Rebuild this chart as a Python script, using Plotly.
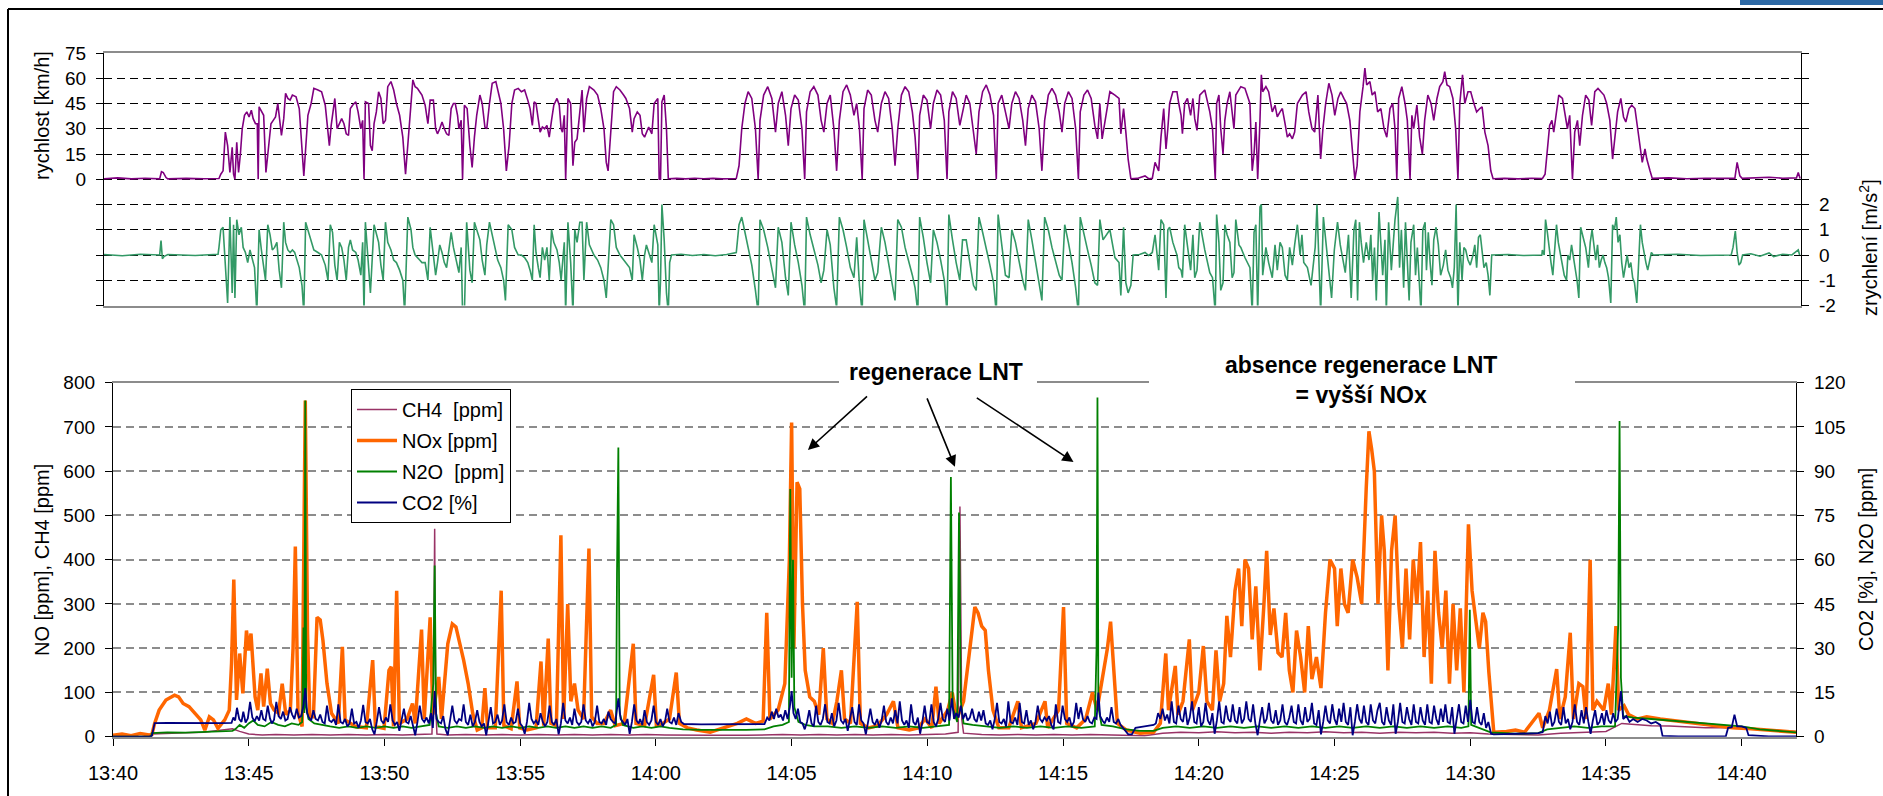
import plotly.graph_objects as go

W, H = 1883, 796
FONT = "Liberation Sans, Arial, sans-serif"

# ---------------- axis ticks ----------------
tick_seconds = [0, 300, 600, 900, 1200, 1500, 1800, 2100, 2400, 2700, 3000, 3300, 3600]
tick_labels = ["13:40", "13:45", "13:50", "13:55", "14:00", "14:05", "14:10",
               "14:15", "14:20", "14:25", "14:30", "14:35", "14:40"]
speed_ticks = [-75, -60, -45, -30, -15, 0, 15, 30, 45, 60, 75]
speed_tick_text = ["", "", "", "", "", "0", "15", "30", "45", "60", "75"]
accel_ticks = [-2, -1, 0, 1, 2, 3, 4, 5, 6, 7, 8]
accel_tick_text = ["-2", "-1", "0", "1", "2", "", "", "", "", "", ""]
left_ticks = [0, 100, 200, 300, 400, 500, 600, 700, 800]
right_ticks = [0, 15, 30, 45, 60, 75, 90, 105, 120]

# ---------------- data: (seconds after 13:40:00, value) ----------------
speed_pts = [
    (0, 0.3), (30, 0.8), (60, 0.2), (90, 0.6), (122, 0.2), (126, 4.5), (130, 4), (136, 1), (140, 0.2),
    (180, 0.5), (220, 0.3), (252, 0.4), (256, 3), (261, 5), (266, 28), (271, 20), (276, 4), (281, 19),
    (284, 3), (287, 0), (291, 22), (295, 4), (299, 15), (303, 30), (308, 38), (313, 40), (318, 37),
    (323, 41), (327, 36), (332, 33), (336, 33), (338, 0), (340, 43), (350, 38), (355, 4), (359, 15),
    (366, 33), (371, 35), (376, 37), (381, 45), (385, 37), (389, 26), (394, 36), (398, 51), (403, 48),
    (408, 47), (413, 50), (421, 49), (428, 42), (434, 20), (438, 2), (442, 18), (447, 38), (454, 45),
    (460, 54), (469, 53), (477, 52), (485, 44), (489, 35), (494, 20), (498, 32), (502, 40), (506, 48),
    (511, 30), (516, 33), (521, 36), (526, 33), (531, 27), (536, 26), (540, 42), (545, 44), (552, 46),
    (557, 40), (563, 30), (567, 35), (570, 0), (573, 46), (580, 45), (584, 20), (588, 17), (592, 33),
    (597, 40), (602, 52), (607, 48), (612, 33), (617, 35), (622, 55), (629, 58), (635, 53), (641, 45),
    (648, 38), (655, 25), (661, 3), (666, 20), (673, 45), (677, 59), (682, 55), (687, 54), (692, 52),
    (697, 50), (704, 44), (710, 33), (715, 47), (722, 47), (727, 30), (731, 27), (736, 30), (741, 34),
    (746, 30), (751, 27), (756, 26), (761, 42), (766, 45), (770, 45), (775, 38), (778, 30), (783, 35),
    (786, 0), (790, 44), (796, 42), (802, 20), (807, 7), (812, 25), (817, 38), (824, 50), (829, 45),
    (835, 31), (839, 30), (845, 45), (851, 57), (859, 58), (863, 53), (870, 45), (876, 30), (882, 5),
    (888, 20), (894, 45), (900, 53), (908, 54), (915, 52), (922, 53), (929, 47), (934, 42), (939, 32),
    (943, 46), (947, 45), (952, 36), (956, 28), (961, 31), (966, 30), (971, 32), (976, 25), (981, 35),
    (986, 44), (993, 48), (998, 44), (1002, 30), (1005, 28), (1009, 38), (1012, 0), (1017, 48),
    (1023, 45), (1028, 8), (1032, 22), (1037, 24), (1043, 40), (1048, 53), (1052, 28), (1058, 48),
    (1064, 55), (1074, 53), (1082, 50), (1089, 42), (1096, 30), (1101, 10), (1105, 5), (1111, 30),
    (1117, 52), (1123, 55), (1131, 53), (1139, 50), (1144, 48), (1152, 42), (1158, 28), (1162, 36),
    (1169, 40), (1175, 38), (1180, 27), (1185, 25), (1189, 28), (1194, 31), (1201, 27), (1206, 45),
    (1214, 48), (1217, 0), (1220, 0), (1223, 46), (1228, 50), (1233, 30), (1237, 0.3), (1255, 0.5),
    (1275, 0.2), (1295, 0.6), (1315, 0.3), (1335, 0.5), (1355, 0.2), (1375, 0.5),
    (1386, 0.4), (1392, 8), (1398, 30), (1405, 45), (1412, 52), (1420, 48), (1428, 30), (1434, 0),
    (1438, 35), (1446, 50), (1455, 55), (1464, 48), (1472, 28), (1478, 45), (1486, 52), (1494, 38),
    (1500, 20), (1506, 42), (1514, 50), (1522, 47), (1530, 30), (1536, 0), (1540, 40), (1548, 52),
    (1556, 55), (1565, 50), (1572, 35), (1578, 28), (1585, 45), (1592, 50), (1600, 30), (1606, 5),
    (1612, 35), (1620, 52), (1628, 56), (1636, 50), (1644, 38), (1650, 45), (1656, 30), (1662, 0),
    (1666, 42), (1674, 53), (1682, 50), (1690, 35), (1696, 28), (1704, 45), (1712, 52), (1720, 48),
    (1728, 30), (1734, 8), (1740, 30), (1748, 50), (1756, 55), (1764, 52), (1772, 40), (1778, 25),
    (1784, 0), (1788, 38), (1796, 50), (1804, 47), (1812, 30), (1818, 45), (1826, 53), (1834, 50),
    (1842, 35), (1848, 0), (1852, 40), (1860, 52), (1868, 48), (1876, 32), (1882, 40), (1890, 50),
    (1898, 45), (1906, 28), (1912, 15), (1918, 40), (1926, 52), (1934, 56), (1942, 50), (1950, 38),
    (1956, 0), (1960, 45), (1968, 50), (1976, 40), (1984, 30), (1990, 45), (1998, 52), (2006, 48),
    (2014, 35), (2020, 20), (2026, 42), (2034, 50), (2042, 46), (2050, 30), (2056, 5), (2062, 35),
    (2070, 50), (2078, 54), (2086, 50), (2094, 40), (2100, 28), (2106, 45), (2114, 52), (2122, 48),
    (2130, 30), (2136, 0), (2140, 40), (2148, 50), (2156, 53), (2164, 48), (2172, 32), (2178, 24),
    (2183, 45), (2188, 24), (2205, 52), (2216, 50), (2225, 48), (2229, 27), (2235, 42), (2240, 28),
    (2245, 12), (2251, 0.3), (2265, 0.5), (2282, 2), (2290, 0.3), (2298, 0.5), (2304, 10), (2312, 5),
    (2317, 25), (2323, 42), (2328, 18), (2332, 30), (2336, 45), (2343, 52), (2352, 52), (2356, 45),
    (2361, 38), (2364, 27), (2369, 45), (2375, 48), (2382, 38), (2387, 48), (2391, 36), (2396, 29),
    (2402, 50), (2413, 53), (2424, 40), (2430, 30), (2433, 10), (2436, 0), (2439, 45), (2444, 50),
    (2448, 30), (2453, 15), (2457, 35), (2462, 45), (2468, 52), (2473, 38), (2477, 30), (2481, 50),
    (2488, 53), (2492, 55), (2501, 54), (2506, 50), (2512, 45), (2517, 5), (2521, 15), (2525, 34),
    (2529, 0), (2534, 35), (2537, 62), (2540, 52), (2547, 55), (2553, 52), (2561, 40), (2567, 44),
    (2572, 37), (2578, 40), (2583, 42), (2589, 33), (2594, 25), (2599, 27), (2605, 24), (2610, 28),
    (2616, 45), (2627, 50), (2635, 52), (2641, 40), (2648, 30), (2654, 28), (2661, 50), (2667, 12),
    (2672, 30), (2678, 45), (2685, 57), (2692, 50), (2698, 38), (2705, 48), (2711, 52), (2718, 48),
    (2724, 45), (2731, 35), (2736, 18), (2742, 0), (2747, 8), (2753, 40), (2760, 55), (2764, 66),
    (2768, 56), (2775, 58), (2780, 50), (2786, 52), (2792, 40), (2799, 42), (2806, 30), (2812, 25),
    (2819, 42), (2825, 45), (2830, 30), (2834, 0), (2838, 48), (2845, 55), (2852, 45), (2857, 35),
    (2863, 0), (2867, 38), (2871, 30), (2878, 44), (2884, 25), (2890, 15), (2895, 35), (2902, 50),
    (2909, 45), (2915, 35), (2922, 48), (2928, 55), (2935, 58), (2939, 64), (2944, 56), (2950, 55),
    (2957, 48), (2963, 30), (2968, 0), (2972, 45), (2978, 62), (2983, 45), (2990, 52), (2996, 52),
    (3003, 45), (3009, 40), (3016, 42), (3021, 43), (3027, 28), (3034, 20), (3040, 5), (3045, 0.3),
    (3070, 0.5), (3100, 0.2), (3130, 0.6), (3153, 0.4), (3159, 3), (3164, 20), (3169, 32), (3174, 35),
    (3178, 28), (3183, 38), (3189, 50), (3197, 48), (3202, 40), (3208, 30), (3213, 38), (3219, 0),
    (3224, 28), (3230, 35), (3235, 20), (3241, 38), (3248, 50), (3255, 47), (3261, 32), (3268, 52),
    (3275, 54), (3281, 52), (3288, 50), (3294, 45), (3301, 35), (3307, 12), (3312, 25), (3318, 40),
    (3325, 48), (3331, 37), (3336, 34), (3343, 42), (3349, 44), (3356, 42), (3362, 30), (3367, 20),
    (3372, 10), (3378, 18), (3382, 12), (3389, 5), (3394, 0.5), (3430, 0.8), (3470, 0.3), (3510, 0.6),
    (3550, 0.4), (3575, 0.5), (3580, 10), (3586, 2), (3591, 0.5), (3620, 0.8), (3650, 1.2), (3680, 0.6),
    (3710, 0.8), (3714, 4), (3718, 0.5),
]

accel_pts = [
    (0, 0.02), (40, -0.03), (80, 0.03), (122, 0.0), (125, 0.57), (128, -0.15), (132, -0.05), (140, 0.02),
    (200, -0.02), (250, 0.03), (252, 0.3), (256, 1.0), (261, 1.1), (266, -0.2), (271, -1.9), (276, 1.5),
    (281, -1.5), (284, 1.2), (287, -1.7), (291, 1.4), (296, 0.8), (301, 1.1), (305, 0.3), (310, 0.1),
    (315, -0.3), (320, 0.2), (325, -0.2), (330, -0.5), (335, -2.3), (340, 1.0), (345, 0.2), (350, -0.5),
    (354, -1.0), (359, 1.2), (364, 0.8), (369, 0.2), (374, 0.3), (379, 0.5), (384, -0.6), (389, -1.3),
    (394, 1.3), (398, 0.5), (403, 0.2), (408, 0.1), (413, 0.2), (418, 0.1), (423, -0.2), (428, -0.5),
    (434, -1.2), (438, -2.3), (442, 1.3), (447, 1.0), (454, 0.5), (460, 0.2), (469, 0.1), (477, 0.0),
    (485, -0.4), (491, -1.0), (496, 1.2), (501, 0.9), (506, -0.4), (511, -1.0), (516, 0.5), (521, 0.3),
    (526, -0.2), (531, -1.0), (536, 0.3), (540, 0.6), (545, 0.2), (552, 0.1), (557, -0.2), (563, -0.8),
    (567, 0.5), (570, -2.3), (573, 1.3), (580, -0.3), (584, -1.5), (592, 1.2), (597, 0.9), (602, 0.5),
    (607, -0.4), (612, -1.0), (617, 1.3), (622, 0.5), (629, 0.2), (635, -0.2), (641, -0.3), (648, -0.6),
    (655, -1.0), (659, -2.3), (666, 1.5), (673, 1.0), (677, 0.3), (682, 0.0), (692, -0.2), (697, -0.3),
    (704, -0.3), (710, -1.0), (715, 1.1), (722, 0.0), (727, -0.8), (731, -0.3), (736, 0.4), (741, 0.1),
    (746, -0.3), (751, -0.5), (756, 0.2), (761, 0.9), (766, 0.3), (770, 0.0), (775, -0.4), (778, -0.7),
    (783, 0.3), (786, -2.3), (790, -2.3), (795, 1.3), (802, -0.6), (807, -1.1), (812, 1.3), (817, 1.0),
    (824, 0.6), (829, -0.2), (835, -0.8), (839, 0.4), (845, 1.3), (851, 0.8), (859, 0.1), (863, -0.2),
    (870, -0.5), (876, -1.0), (880, -1.8), (886, 1.2), (894, 1.0), (900, 0.3), (908, 0.0), (915, 0.0),
    (922, -0.1), (929, -0.3), (934, -0.6), (939, -1.0), (943, 1.2), (947, 0.1), (952, -0.5), (956, -0.9),
    (961, 0.3), (966, -0.2), (971, 0.3), (976, -1.0), (981, 1.0), (986, 0.5), (993, 0.2), (998, -0.3),
    (1002, -1.0), (1005, -0.3), (1009, 0.5), (1012, -2.3), (1017, 1.3), (1023, -0.3), (1028, -2.3),
    (1032, 1.0), (1037, 0.5), (1043, 1.3), (1048, 1.3), (1052, -1.0), (1058, 1.3), (1064, 0.4),
    (1074, 0.0), (1082, -0.2), (1089, -0.5), (1096, -1.0), (1101, -1.7), (1105, -0.5), (1111, 1.4),
    (1117, 1.2), (1123, 0.3), (1131, 0.0), (1139, -0.2), (1144, -0.3), (1152, -0.5), (1158, -1.0),
    (1162, 0.8), (1169, 0.3), (1175, -0.2), (1180, -1.0), (1185, 0.0), (1189, 0.4), (1194, 0.1),
    (1201, -0.3), (1206, 1.2), (1214, 0.4), (1217, -2.3), (1220, -1.0), (1223, 2.0), (1228, 0.6),
    (1233, -1.5), (1237, -2.3), (1240, -0.3), (1244, 0.0), (1265, 0.03), (1290, -0.02), (1315, 0.02),
    (1340, -0.03), (1365, 0.02), (1386, 0.1),
    (1392, 1.2), (1398, 1.5), (1405, 0.9), (1412, 0.3), (1420, -0.4), (1428, -1.4), (1434, -2.3),
    (1438, 1.4), (1446, 1.0), (1455, 0.3), (1464, -0.5), (1472, -1.3), (1478, 1.1), (1486, 0.5),
    (1494, -0.9), (1500, -1.6), (1506, 1.3), (1514, 0.4), (1522, -0.3), (1530, -1.2), (1536, -2.3),
    (1540, 1.5), (1548, 0.8), (1556, 0.2), (1565, -0.4), (1572, -1.1), (1578, -0.6), (1585, 1.0),
    (1592, 0.4), (1600, -1.3), (1606, -2.1), (1612, 1.5), (1620, 1.0), (1628, 0.3), (1636, -0.5),
    (1644, -0.9), (1650, 0.7), (1656, -1.2), (1662, -2.3), (1666, 1.4), (1674, 0.6), (1682, -0.3),
    (1690, -1.0), (1696, -0.7), (1704, 1.1), (1712, 0.5), (1720, -0.3), (1728, -1.2), (1734, -1.8),
    (1740, 1.4), (1748, 1.1), (1756, 0.3), (1764, -0.2), (1772, -0.8), (1778, -1.3), (1784, -2.3),
    (1788, 1.5), (1796, 0.7), (1804, -0.3), (1812, -1.1), (1818, 1.0), (1826, 0.5), (1834, -0.2),
    (1842, -1.0), (1848, -2.3), (1852, 1.6), (1860, 0.6), (1868, -0.3), (1876, -1.0), (1882, 0.6),
    (1890, 0.6), (1898, -0.4), (1906, -1.2), (1912, -1.4), (1918, 1.5), (1926, 0.9), (1934, 0.3),
    (1942, -0.4), (1950, -1.1), (1956, -2.3), (1960, 1.6), (1968, 0.4), (1976, -0.8), (1984, -0.9),
    (1990, 1.0), (1998, 0.5), (2006, -0.3), (2014, -1.0), (2020, -1.4), (2026, 1.4), (2034, 0.6),
    (2042, -0.3), (2050, -1.1), (2056, -1.8), (2062, 1.5), (2070, 1.0), (2078, 0.3), (2086, -0.3),
    (2094, -0.8), (2100, -1.0), (2106, 1.2), (2114, 0.5), (2122, -0.3), (2130, -1.3), (2136, -2.3),
    (2140, 1.5), (2148, 0.8), (2156, 0.2), (2164, -0.4), (2172, -1.1), (2178, -1.2), (2183, 1.4),
    (2190, 0.6), (2205, 1.0), (2216, -0.1), (2225, -0.3), (2229, -1.6), (2235, 1.1), (2240, -1.1),
    (2245, -1.5), (2251, -1.2), (2256, 0.0), (2270, 0.02), (2282, 0.1), (2290, -0.02), (2298, 0.1),
    (2304, 0.8), (2312, -0.6), (2317, 1.4), (2323, 1.2), (2328, -1.7), (2332, 1.0), (2336, 1.1),
    (2343, 0.5), (2352, 0.0), (2356, -0.5), (2361, -0.6), (2364, -0.9), (2369, 1.2), (2375, 0.3),
    (2382, -0.6), (2387, 0.8), (2391, -0.9), (2396, -0.6), (2402, 1.3), (2413, 0.2), (2424, -0.7),
    (2430, -0.9), (2433, -1.6), (2436, -2.3), (2439, 1.6), (2444, 0.5), (2448, -1.4), (2453, -1.1),
    (2457, 1.2), (2462, 0.8), (2468, 0.5), (2473, -0.9), (2477, -0.7), (2481, 1.4), (2488, 0.4),
    (2492, 0.3), (2501, -0.1), (2506, -0.3), (2512, -0.5), (2517, -2.3), (2521, 0.9), (2525, 1.2),
    (2529, -2.3), (2534, 1.9), (2537, 2.0), (2540, -0.8), (2547, 0.3), (2553, -0.3), (2561, -0.9),
    (2567, 0.4), (2572, -0.6), (2578, 0.5), (2583, 0.3), (2589, -0.8), (2594, -1.0), (2599, 0.3),
    (2605, -0.4), (2610, 0.4), (2616, 1.2), (2622, 0.0), (2626, 0.8), (2630, -0.3), (2638, -0.5),
    (2646, -1.2), (2655, 0.3), (2659, 2.0), (2663, -0.5), (2667, -2.3), (2673, 1.5), (2679, 0.5),
    (2686, -0.8), (2691, -1.7), (2697, 0.2), (2704, 1.3), (2710, 0.4), (2716, -0.3), (2721, -0.7),
    (2728, 0.8), (2734, -1.7), (2740, 1.0), (2744, 1.4), (2748, -1.8), (2752, 1.3), (2756, 0.5),
    (2761, -0.3), (2767, 0.5), (2773, -0.2), (2777, 0.8), (2781, -1.0), (2785, 0.3), (2789, -1.8),
    (2795, 1.7), (2800, 0.2), (2803, -0.8), (2808, 0.6), (2811, -2.3), (2816, 1.3), (2822, -0.6),
    (2826, 0.4), (2830, 1.4), (2836, 2.3), (2840, -0.5), (2844, 1.0), (2849, -1.3), (2853, 1.3),
    (2857, -0.5), (2861, -1.8), (2865, 0.5), (2871, 1.2), (2875, -0.8), (2879, 0.3), (2883, -1.0),
    (2887, -2.3), (2891, 1.0), (2896, 1.3), (2899, -0.6), (2903, 0.9), (2907, -0.3), (2911, -1.2),
    (2915, 0.6), (2920, 1.1), (2925, 0.4), (2930, -0.8), (2936, -0.4), (2941, 0.2), (2946, -0.6),
    (2952, -0.9), (2956, -1.3), (2960, -0.5), (2964, 2.0), (2968, -2.3), (2972, 0.5), (2977, -1.0),
    (2981, 0.3), (2985, 0.2), (2990, -0.2), (2995, -0.4), (3001, 0.0), (3005, 0.4), (3009, -0.5),
    (3013, 0.7), (3017, 0.8), (3021, 0.0), (3025, -0.5), (3030, -0.3), (3034, -0.8), (3038, -1.6),
    (3042, 0.0), (3078, 0.02), (3111, -0.02), (3152, 0.0), (3153, 0.2), (3157, 0.0), (3160, 1.4),
    (3164, 0.9), (3168, 0.2), (3172, -0.3), (3176, -0.8), (3179, -0.1), (3184, 1.2), (3188, 0.5),
    (3193, 0.0), (3197, -0.5), (3201, -0.8), (3206, -1.0), (3209, 0.0), (3213, -0.2), (3217, 0.4),
    (3223, -0.3), (3229, -1.0), (3233, -1.7), (3237, 1.1), (3241, 0.8), (3245, 0.5), (3248, 0.3),
    (3254, -0.5), (3258, 0.5), (3262, 1.0), (3266, 0.3), (3270, -0.2), (3274, 0.4), (3278, -0.5),
    (3282, -0.2), (3286, 0.0), (3290, -0.3), (3294, -0.5), (3298, -0.9), (3303, -1.9), (3307, 1.2),
    (3311, 1.0), (3315, 1.5), (3319, 0.5), (3323, 0.8), (3327, -0.3), (3331, -0.9), (3335, -0.5),
    (3339, 0.0), (3343, -0.5), (3347, -0.3), (3351, -0.9), (3355, -1.1), (3360, -1.9), (3364, -0.3),
    (3368, 1.2), (3372, 0.5), (3376, 0.0), (3380, -0.3), (3384, -0.6), (3388, -0.2), (3392, 0.1),
    (3396, 0.0), (3450, 0.03), (3500, -0.02), (3567, 0.0), (3571, 0.3), (3576, 0.95), (3580, 0.1),
    (3584, -0.4), (3588, -0.3), (3592, 0.0), (3610, 0.05), (3630, -0.05), (3650, 0.08), (3660, -0.06),
    (3680, 0.03), (3700, 0.0), (3714, 0.2), (3717, 0.0),
]

nox_pts = [
    (0, 3), (20, 6), (40, 2), (60, 7), (80, 4), (86, 5), (92, 30), (102, 60), (117, 83), (136, 94),
    (145, 90), (155, 75), (168, 68), (181, 53), (194, 38), (203, 15), (213, 45), (222, 38), (232, 19),
    (247, 38), (257, 60), (262, 165), (267, 355), (273, 83), (280, 188), (287, 98), (295, 240),
    (300, 195), (305, 233), (314, 90), (320, 60), (327, 143), (333, 68), (341, 154), (348, 75),
    (356, 60), (366, 53), (374, 120), (382, 50), (392, 60), (398, 200), (403, 430), (409, 53),
    (418, 23), (425, 760), (430, 233), (435, 45), (443, 45), (451, 270), (458, 264), (464, 218),
    (473, 120), (483, 53), (498, 30), (507, 203), (513, 38), (536, 23), (560, 20), (574, 173),
    (580, 23), (599, 19), (610, 150), (615, 158), (620, 23), (627, 330), (633, 30), (650, 40),
    (662, 75), (668, 30), (682, 242), (688, 40), (701, 270), (707, 50), (720, 135), (726, 40),
    (740, 210), (750, 255), (758, 248), (765, 218), (775, 173), (785, 120), (795, 53), (805, 15),
    (815, 20), (822, 110), (828, 20), (845, 20), (858, 330), (864, 25), (880, 18), (893, 125),
    (899, 20), (915, 15), (935, 20), (946, 170), (952, 25), (962, 222), (968, 30), (980, 25),
    (990, 455), (996, 40), (1005, 300), (1012, 80), (1020, 120), (1028, 60), (1040, 40), (1052, 425),
    (1058, 45), (1070, 30), (1085, 30), (1100, 60), (1110, 25), (1130, 30), (1150, 210), (1156, 30),
    (1175, 25), (1195, 140), (1201, 25), (1215, 30), (1230, 40), (1245, 145), (1252, 30), (1270, 20),
    (1290, 15), (1320, 10), (1350, 20), (1380, 30), (1400, 40), (1420, 30), (1437, 35), (1445, 280),
    (1452, 40), (1470, 60), (1485, 120), (1495, 400), (1500, 710), (1505, 200), (1512, 575),
    (1518, 560), (1524, 300), (1530, 150), (1540, 90), (1550, 80), (1560, 50), (1570, 200),
    (1578, 40), (1590, 30), (1600, 80), (1610, 150), (1617, 40), (1630, 30), (1645, 305), (1652, 30),
    (1670, 20), (1690, 25), (1710, 50), (1725, 80), (1735, 20), (1760, 15), (1780, 20), (1795, 40),
    (1810, 20), (1819, 113), (1826, 30), (1845, 60), (1855, 100), (1865, 40), (1880, 80),
    (1905, 293), (1912, 280), (1920, 250), (1928, 240), (1935, 150), (1945, 60), (1958, 20),
    (1980, 20), (2000, 80), (2008, 20), (2040, 30), (2060, 80), (2066, 20), (2090, 60), (2101, 293),
    (2108, 30), (2130, 20), (2150, 40), (2165, 100), (2175, 60), (2198, 200), (2205, 260),
    (2212, 150), (2220, 30), (2240, 15), (2270, 8), (2300, 10), (2315, 30), (2327, 188), (2333, 60),
    (2348, 160), (2354, 50), (2365, 80), (2379, 220), (2386, 60), (2400, 100), (2410, 205),
    (2418, 80), (2430, 60), (2438, 195), (2446, 80), (2455, 120), (2462, 273), (2470, 180),
    (2480, 330), (2488, 380), (2495, 250), (2502, 400), (2510, 380), (2518, 220), (2526, 340),
    (2535, 150), (2544, 300), (2550, 420), (2558, 230), (2566, 290), (2575, 190), (2584, 180),
    (2592, 280), (2600, 150), (2608, 100), (2616, 240), (2625, 180), (2634, 100), (2642, 250),
    (2650, 130), (2660, 180), (2670, 110), (2680, 280), (2690, 400), (2700, 380), (2706, 250),
    (2714, 380), (2722, 300), (2730, 280), (2740, 400), (2750, 360), (2760, 300), (2770, 560),
    (2776, 690), (2782, 650), (2788, 600), (2796, 300), (2804, 500), (2810, 420), (2818, 150),
    (2826, 420), (2834, 500), (2842, 300), (2850, 200), (2858, 380), (2866, 220), (2874, 400),
    (2882, 300), (2890, 440), (2898, 180), (2906, 330), (2914, 120), (2922, 420), (2930, 280),
    (2938, 200), (2946, 330), (2954, 120), (2962, 300), (2970, 150), (2978, 290), (2986, 100),
    (2996, 480), (3004, 330), (3012, 260), (3020, 200), (3028, 280), (3034, 260), (3041, 147),
    (3052, 10), (3080, 12), (3100, 15), (3120, 10), (3152, 53), (3160, 20), (3175, 60),
    (3191, 153), (3198, 40), (3210, 90), (3221, 235), (3228, 40), (3240, 120), (3249, 113),
    (3256, 40), (3265, 400), (3271, 60), (3280, 80), (3295, 60), (3305, 120), (3312, 50),
    (3322, 250), (3328, 60), (3340, 70), (3350, 50), (3370, 40), (3390, 45), (3420, 40), (3460, 35),
    (3500, 30), (3540, 25), (3580, 20), (3620, 18), (3660, 15), (3700, 12), (3720, 10),
]

ch4_pts = [
    (0, 0), (84, 0), (86, 6), (120, 8), (160, 9), (200, 10), (240, 14), (264, 18), (280, 12), (300, 6),
    (330, 4), (360, 5), (400, 4), (440, 5), (480, 4), (520, 5), (560, 4), (600, 5), (640, 4), (680, 5),
    (705, 6), (709, 200), (711, 470), (713, 80), (716, 6), (740, 4), (780, 5), (820, 4), (860, 5),
    (900, 4), (940, 5), (980, 4), (1020, 5), (1060, 4), (1100, 5), (1140, 4), (1180, 5), (1220, 4),
    (1260, 3), (1320, 3), (1400, 3), (1440, 4), (1480, 5), (1520, 4), (1560, 5), (1600, 4), (1640, 5),
    (1680, 4), (1720, 5), (1760, 4), (1800, 5), (1840, 6), (1868, 10), (1872, 520), (1876, 40),
    (1880, 8), (1920, 5), (1960, 4), (2000, 5), (2040, 4), (2080, 5), (2120, 4), (2160, 5), (2200, 4),
    (2240, 3), (2280, 2), (2320, 8), (2360, 10), (2400, 9), (2440, 11), (2480, 9), (2520, 10),
    (2560, 8), (2600, 10), (2640, 9), (2680, 11), (2720, 9), (2760, 10), (2800, 8), (2840, 10),
    (2880, 9), (2920, 10), (2960, 8), (3000, 9), (3040, 6), (3100, 4), (3150, 4), (3200, 8),
    (3250, 10), (3300, 12), (3335, 30), (3360, 28), (3400, 25), (3440, 24), (3480, 22), (3520, 20),
    (3560, 20), (3600, 18), (3640, 16), (3680, 14), (3720, 12),
]

n2o_pts = [
    (0, 0), (84, 0), (86, 1.2), (120, 1.5), (160, 1.4), (200, 1.6), (240, 1.8), (264, 2), (270, 2.5),
    (280, 4), (290, 3), (300, 4.5), (310, 5.5), (320, 4), (335, 3.5), (350, 5), (365, 4), (380, 3.5),
    (395, 4.5), (410, 4), (418, 5), (421, 37), (423, 8), (425, 114), (427, 10), (432, 6), (445, 4.5),
    (460, 4), (480, 3.5), (500, 3), (520, 3.5), (540, 3), (560, 3.5), (580, 3), (600, 3.5), (620, 3),
    (640, 3.5), (660, 3), (680, 3.5), (700, 4), (708, 18), (711, 58), (714, 8), (720, 3.5), (740, 3),
    (760, 3.5), (780, 3), (800, 3.5), (820, 3), (840, 3.5), (860, 3), (880, 3.5), (900, 3),
    (920, 3.5), (940, 3), (960, 3.5), (980, 3), (1000, 3.5), (1020, 3), (1040, 3.5), (1060, 3),
    (1080, 3.5), (1100, 3), (1112, 4), (1114, 55), (1117, 98), (1120, 8), (1127, 4), (1150, 3),
    (1170, 3.5), (1190, 3), (1210, 3.5), (1230, 3), (1260, 2.5), (1300, 2.3), (1350, 2.2),
    (1400, 2.3), (1440, 2.5), (1460, 3.5), (1480, 4), (1494, 5), (1497, 84), (1500, 20), (1503, 60),
    (1506, 10), (1515, 5), (1530, 4), (1550, 3.5), (1580, 3.5), (1610, 3), (1640, 3.5), (1670, 3),
    (1700, 3.5), (1730, 3), (1760, 3.5), (1790, 3), (1820, 3.5), (1848, 4), (1852, 88), (1856, 10),
    (1866, 5), (1870, 76), (1874, 12), (1880, 4.5), (1900, 4), (1930, 3.5), (1960, 3), (1990, 3.5),
    (2020, 3), (2050, 3.5), (2080, 3), (2110, 3.5), (2140, 3), (2170, 3.5), (2174, 30), (2176, 115),
    (2178, 10), (2185, 4), (2210, 3.5), (2240, 2.5), (2270, 2), (2300, 2), (2320, 3), (2350, 3.5),
    (2380, 3), (2410, 3.5), (2440, 3), (2470, 3.5), (2500, 3), (2530, 3.5), (2560, 3), (2590, 3.5),
    (2620, 3), (2650, 3.5), (2680, 3), (2710, 3.5), (2740, 3), (2770, 3.5), (2800, 3), (2830, 3.5),
    (2860, 3), (2890, 3.5), (2920, 3), (2950, 3.5), (2980, 3), (2996, 3.5), (2999, 43), (3002, 4),
    (3020, 3), (3045, 1.5), (3100, 1), (3150, 1.2), (3170, 2.5), (3200, 3), (3230, 3.5), (3260, 3),
    (3290, 3.5), (3320, 3.5), (3327, 38), (3330, 107), (3333, 20), (3338, 7), (3360, 6.5), (3400, 6),
    (3440, 5.5), (3480, 5), (3520, 4.5), (3560, 4), (3600, 3.5), (3640, 2.5), (3680, 2), (3720, 1.5),
]

co2_pts = [
    (0, 0), (80, 0), (86, 0.3), (92, 4.6), (120, 4.7), (160, 4.6), (200, 4.7), (240, 4.6), (262, 4.7),
    (266, 6.5), (270, 5.5), (274, 9.8), (279, 6), (284, 5), (288, 8.5), (293, 4.8), (298, 6.2),
    (303, 11.8), (308, 6.5), (313, 5.2), (318, 7), (323, 5.5), (328, 9), (332, 6), (337, 5.5),
    (342, 10.5), (347, 6.2), (351, 4.5), (356, 5.8), (361, 11.8), (366, 7), (371, 6), (376, 8.5),
    (381, 5.5), (386, 6), (391, 10), (396, 7.5), (401, 6), (406, 9.5), (411, 6.5), (416, 7),
    (421, 10.5), (425, 16.5), (429, 8), (433, 6.5), (438, 5.5), (443, 9), (448, 6), (453, 5.5),
    (458, 7.5), (463, 5), (468, 4.5), (473, 10.5), (478, 5.5), (483, 5), (488, 6), (493, 4),
    (498, 11), (503, 5), (508, 4.5), (513, 6), (518, 3.5), (523, 4.5), (528, 9.5), (533, 4.5),
    (538, 5), (543, 3), (548, 5.5), (553, 10.8), (558, 5), (563, 4.5), (568, 6), (573, 2.5),
    (578, 0.8), (583, 5), (588, 10), (593, 5.5), (598, 4.5), (603, 6.5), (608, 5), (613, 11),
    (618, 5.5), (623, 4), (628, 5), (633, 2), (638, 5.5), (643, 9.5), (648, 5), (653, 4.5), (658, 7),
    (663, 4), (668, 0.5), (673, 5), (678, 10.5), (683, 6), (688, 5), (693, 6.5), (698, 4.5), (703, 8),
    (707, 3), (711, 15.5), (715, 6), (720, 5), (725, 4.5), (730, 7), (735, 2.5), (740, 0.5), (745, 5),
    (750, 10.5), (755, 5.5), (760, 4.5), (765, 6), (770, 5.5), (775, 11), (780, 5), (785, 4),
    (790, 7.5), (795, 3.5), (800, 5), (805, 9), (810, 5), (815, 3.5), (820, 4.5), (825, 0.5),
    (830, 5.5), (835, 10), (840, 4.5), (845, 5), (850, 7.5), (855, 4), (860, 5.5), (865, 11), (870, 5),
    (875, 4), (880, 6.5), (885, 4.5), (890, 5), (895, 9.5), (900, 4.5), (905, 3.5), (910, 1), (915, 5),
    (920, 11.5), (925, 6), (930, 4.5), (935, 5.5), (940, 4), (945, 8), (950, 5), (955, 3.5), (960, 5),
    (965, 10.5), (970, 5), (975, 4), (980, 6), (985, 0.8), (990, 4.5), (995, 11.5), (1000, 5.5),
    (1005, 4.5), (1010, 6.5), (1015, 4), (1020, 9.5), (1025, 5), (1030, 4), (1035, 5), (1040, 11),
    (1045, 5.5), (1050, 4.5), (1055, 6), (1060, 3.5), (1065, 5), (1070, 10.5), (1075, 5), (1080, 4.5),
    (1085, 6), (1090, 4), (1095, 8.5), (1100, 6), (1105, 5), (1110, 4.5), (1117, 13), (1122, 6),
    (1127, 5), (1132, 4), (1137, 6), (1142, 1), (1147, 5), (1152, 11), (1157, 5.5), (1162, 4.5),
    (1165, 6), (1170, 4), (1175, 9), (1180, 5), (1185, 4), (1190, 5.5), (1195, 10.5), (1200, 5),
    (1205, 4), (1210, 6), (1215, 3.5), (1220, 5), (1225, 9.5), (1230, 5), (1235, 4.5), (1240, 6.5),
    (1245, 4), (1250, 8), (1256, 5), (1262, 4.3), (1300, 4.2), (1350, 4.3), (1400, 4.2), (1440, 4.3),
    (1446, 6.5), (1451, 5.5), (1456, 8.5), (1461, 6), (1466, 9.5), (1471, 6.5), (1476, 7.5),
    (1481, 5.5), (1486, 9), (1491, 6), (1496, 10), (1500, 15.5), (1504, 8), (1509, 6), (1514, 9.5),
    (1519, 5), (1524, 4.5), (1529, 2.5), (1534, 5), (1539, 9), (1544, 4.5), (1549, 3.5), (1554, 10.5),
    (1559, 5), (1564, 4), (1569, 6), (1574, 11), (1579, 5), (1584, 4.5), (1589, 8), (1594, 3.5),
    (1599, 5.5), (1604, 11.5), (1609, 5.5), (1614, 4.5), (1619, 6), (1624, 2), (1629, 5.5),
    (1634, 10), (1639, 5), (1644, 4), (1649, 11), (1654, 5.5), (1659, 4.5), (1664, 0.8), (1669, 5),
    (1674, 9.5), (1679, 5), (1684, 4), (1689, 6), (1694, 3), (1699, 5.5), (1704, 10.5), (1709, 5),
    (1714, 4), (1719, 6.5), (1724, 4.5), (1729, 9), (1734, 4.5), (1739, 12), (1744, 5.5), (1749, 4),
    (1754, 5.5), (1759, 3), (1764, 11), (1769, 5), (1774, 4), (1779, 6.5), (1784, 1), (1789, 5),
    (1794, 10.5), (1799, 5), (1804, 4.5), (1809, 11), (1814, 5), (1819, 3.5), (1824, 6), (1829, 11.5),
    (1834, 6), (1839, 5), (1844, 9.5), (1849, 5.5), (1854, 13), (1859, 6), (1864, 8), (1869, 6.5),
    (1874, 10.5), (1879, 6), (1884, 8), (1889, 5.5), (1894, 6.5), (1899, 9.5), (1904, 6), (1909, 5),
    (1914, 8.5), (1919, 5.5), (1924, 9), (1929, 4.5), (1934, 4), (1939, 5.5), (1944, 2.5), (1949, 6),
    (1954, 11.5), (1959, 5), (1964, 4.5), (1969, 6), (1974, 3.5), (1979, 12), (1984, 5), (1989, 4.5),
    (1994, 6.5), (1999, 4), (2004, 11.5), (2009, 5), (2014, 4.5), (2019, 9), (2024, 4), (2029, 5.5),
    (2034, 2.5), (2039, 5), (2044, 10.5), (2049, 6), (2054, 5), (2059, 6.5), (2064, 5.5), (2069, 7),
    (2074, 4), (2079, 2.5), (2084, 11), (2089, 5), (2094, 4.5), (2099, 10.5), (2104, 6), (2109, 5),
    (2114, 6.5), (2119, 3.5), (2124, 5), (2129, 11.5), (2134, 6), (2139, 10), (2144, 6), (2149, 5),
    (2154, 7), (2159, 5), (2164, 4.5), (2169, 6.5), (2174, 6), (2178, 15), (2182, 7), (2187, 5.5),
    (2192, 4.5), (2197, 6.5), (2202, 5), (2207, 10), (2212, 5), (2217, 4.5), (2222, 6), (2227, 4),
    (2232, 3), (2237, 2), (2244, 0.8), (2252, 0.8), (2260, 3), (2280, 3.5), (2300, 4), (2305, 4.5),
    (2310, 8), (2315, 6), (2320, 9.5), (2325, 5.5), (2330, 7.5), (2335, 4.5), (2340, 12), (2345, 5),
    (2350, 4.5), (2355, 10.5), (2360, 6), (2365, 5), (2370, 10), (2375, 4), (2380, 6.5), (2385, 12),
    (2390, 5), (2395, 4.5), (2400, 10), (2405, 3.5), (2410, 5), (2415, 11.5), (2420, 5.5), (2425, 4),
    (2430, 8), (2435, 1), (2440, 5.5), (2445, 12), (2450, 5), (2455, 4.5), (2460, 10.5), (2465, 6),
    (2470, 5), (2475, 11), (2480, 5.5), (2485, 4.5), (2490, 10), (2495, 4.5), (2500, 6), (2505, 12),
    (2510, 6), (2515, 5), (2520, 11), (2525, 4.5), (2530, 0.5), (2535, 5.5), (2540, 10), (2545, 4.5),
    (2550, 6), (2555, 11.5), (2560, 5.5), (2565, 4.5), (2570, 9), (2575, 4), (2580, 5.5), (2585, 11),
    (2590, 5), (2595, 4), (2600, 6.5), (2605, 10.5), (2610, 5), (2615, 4.5), (2620, 11), (2625, 5.5),
    (2630, 4), (2635, 10), (2640, 5), (2645, 6), (2650, 11.5), (2655, 4.5), (2660, 4), (2665, 9),
    (2670, 0.8), (2675, 5), (2680, 10.5), (2685, 5.5), (2690, 4.5), (2695, 11), (2700, 6), (2705, 4),
    (2710, 9.5), (2715, 5), (2720, 11.5), (2725, 5), (2730, 4), (2735, 10), (2740, 0.5), (2745, 5),
    (2750, 11), (2755, 6), (2760, 4.5), (2765, 10.5), (2770, 5), (2775, 4), (2780, 11), (2785, 5.5),
    (2790, 4.5), (2795, 9), (2800, 11.5), (2805, 5), (2810, 4), (2815, 10), (2820, 5.5), (2825, 4),
    (2830, 11), (2835, 1), (2840, 5), (2845, 11.5), (2850, 5), (2855, 4.5), (2860, 10), (2865, 6),
    (2870, 4), (2875, 11), (2880, 5), (2885, 4.5), (2890, 10), (2895, 5.5), (2900, 4), (2905, 11),
    (2910, 5), (2915, 4.5), (2920, 10.5), (2925, 6), (2930, 4), (2935, 9.5), (2940, 5), (2945, 11),
    (2950, 5), (2955, 4.5), (2960, 10), (2965, 1), (2970, 5.5), (2975, 11), (2980, 5), (2985, 4.5),
    (2990, 10.5), (2995, 5), (3000, 12.5), (3005, 5), (3010, 4.5), (3015, 10), (3020, 5), (3025, 4),
    (3030, 8), (3035, 3), (3040, 5), (3046, 1), (3052, 0.8), (3100, 1), (3150, 1.2), (3160, 1.5),
    (3166, 7), (3171, 4.5), (3176, 8.5), (3181, 3.5), (3186, 5), (3191, 9.5), (3196, 5), (3201, 4),
    (3206, 10), (3211, 4.5), (3216, 6), (3221, 2.5), (3226, 5), (3231, 11), (3236, 5), (3241, 4),
    (3246, 9), (3251, 4.5), (3256, 10), (3261, 5), (3266, 1), (3271, 5.5), (3276, 9), (3281, 4),
    (3286, 5), (3291, 8), (3296, 4), (3301, 9), (3306, 5.5), (3311, 4.5), (3316, 8), (3321, 5),
    (3326, 6), (3333, 15.5), (3338, 6), (3345, 7), (3352, 5), (3360, 6), (3370, 5), (3380, 6),
    (3390, 5.5), (3400, 4.5), (3410, 5), (3420, 4), (3425, 0.3), (3460, 0.1), (3500, 0.2),
    (3540, 0.1), (3565, 0.2), (3570, 3), (3578, 3.2), (3584, 7.5), (3590, 3.5), (3600, 3.5),
    (3610, 3), (3615, 0.5), (3630, 0.3), (3660, 0.1), (3720, 0.1),
]


def split(pts):
    return [p[0] for p in pts], [p[1] for p in pts]


def fx(px):
    return px / W


def fy(py):
    return 1 - py / H


fig = go.Figure()

# --- upper block: vehicle speed and acceleration ---
t, v = split(speed_pts)
fig.add_trace(go.Scatter(x=t, y=v, xaxis="x", yaxis="y", mode="lines", showlegend=False,
                         line=dict(color="#800080", width=1.6), name="rychlost"))
t, v = split(accel_pts)
fig.add_trace(go.Scatter(x=t, y=v, xaxis="x", yaxis="y2", mode="lines", showlegend=False,
                         line=dict(color="#339966", width=1.6), name="zrychlení"))

# --- lower block: exhaust concentrations ---
series = [
    ("CH4\u00a0 [ppm]", ch4_pts, "y3", "#993366", 1.5),
    ("NOx [ppm]", nox_pts, "y3", "#FF6600", 3.5),
    ("N2O\u00a0 [ppm]", n2o_pts, "y4", "#008000", 1.8),
    ("CO2 [%]", co2_pts, "y4", "#000080", 1.8),
]
for name, pts, yax, col, wd in series:
    t, v = split(pts)
    fig.add_trace(go.Scatter(x=t, y=v, xaxis="x2", yaxis=yax, mode="lines", name=name,
                             legendgroup=name, line=dict(color=col, width=wd)))

tickfont = dict(family=FONT, size=19, color="black")

fig.update_layout(
    width=W, height=H, autosize=False,
    margin=dict(l=0, r=0, t=0, b=0, pad=0, autoexpand=False),
    paper_bgcolor="white", plot_bgcolor="white",
    font=dict(family=FONT, color="black"),
    xaxis=dict(domain=[fx(104), fx(1801)], range=[0, 3720], anchor="y", automargin=False,
               showticklabels=False, ticks="", showgrid=False, zeroline=False,
               showline=True, mirror=True, linecolor="#8c8c8c", linewidth=2),
    yaxis=dict(domain=[fy(305.5), fy(53)], range=[-75, 75], anchor="x", automargin=False,
               tickvals=speed_ticks, ticktext=speed_tick_text, tickfont=tickfont,
               ticks="outside", ticklen=7, tickcolor="black", ticklabelstandoff=6,
               showline=True, linecolor="black", linewidth=1.3, zeroline=False,
               showgrid=True, gridcolor="black", gridwidth=1, griddash="8px,5px"),
    yaxis2=dict(overlaying="y", side="right", range=[-2, 8], anchor="x", automargin=False,
                tickvals=accel_ticks, ticktext=accel_tick_text, tickfont=tickfont,
                ticks="outside", ticklen=7, tickcolor="black", ticklabelstandoff=6,
                showline=True, linecolor="black", linewidth=1.3, zeroline=False, showgrid=False),
    xaxis2=dict(domain=[fx(113), fx(1796)], range=[0, 3720], anchor="y3", automargin=False,
                tickvals=tick_seconds, ticktext=tick_labels,
                tickfont=dict(family=FONT, size=20, color="black"),
                ticks="outside", ticklen=7, tickcolor="black", ticklabelstandoff=10,
                showgrid=False, zeroline=False,
                showline=True, mirror=True, linecolor="#8c8c8c", linewidth=2),
    yaxis3=dict(domain=[fy(736.7), fy(382.7)], range=[0, 800], anchor="x2", automargin=False,
                tickvals=left_ticks, tickfont=tickfont,
                ticks="outside", ticklen=7, tickcolor="black", ticklabelstandoff=6,
                showline=True, linecolor="black", linewidth=1.3, zeroline=False,
                showgrid=True, gridcolor="#8c8c8c", gridwidth=1.5, griddash="8px,5px"),
    yaxis4=dict(overlaying="y3", side="right", range=[0, 120], anchor="x2", automargin=False,
                tickvals=right_ticks, tickfont=tickfont,
                ticks="outside", ticklen=7, tickcolor="black", ticklabelstandoff=6,
                showline=True, linecolor="black", linewidth=1.3, zeroline=False, showgrid=False),
    legend=dict(x=fx(351), y=fy(389), xanchor="left", yanchor="top",
                bgcolor="white", bordercolor="black", borderwidth=1,
                font=dict(family=FONT, size=20, color="black"),
                tracegroupgap=2, itemwidth=40),
)

# outer frame and corner bar
fig.add_shape(type="line", xref="paper", yref="paper", x0=fx(8), x1=fx(8), y0=fy(9), y1=-0.05,
              line=dict(color="black", width=2))
fig.add_shape(type="line", xref="paper", yref="paper", x0=fx(8), x1=1.05, y0=fy(9), y1=fy(9),
              line=dict(color="black", width=2))
fig.add_shape(type="rect", xref="paper", yref="paper", x0=fx(1740), x1=1.01, y0=fy(5), y1=1.01,
              line=dict(width=0), fillcolor="#2e6aa6")

# gaps in the lower block's top border behind the notes
for a, b in [(839, 1037), (1149, 1575)]:
    fig.add_shape(type="rect", xref="paper", yref="paper", x0=fx(a), x1=fx(b),
                  y0=fy(387), y1=fy(378), line=dict(width=0), fillcolor="white", layer="above")

axis_title = dict(family=FONT, size=20, color="black")
for txt, px, py in [("rychlost [km/h]", 42, 116),
                    ("zrychlení [m/s<sup>2</sup>]", 1868, 248),
                    ("NO [ppm], CH4 [ppm]", 42, 560),
                    ("CO2 [%], N2O [ppm]", 1866, 560)]:
    fig.add_annotation(text=txt, xref="paper", yref="paper", x=fx(px), y=fy(py),
                       xanchor="center", yanchor="middle", textangle=-90,
                       showarrow=False, font=axis_title)

note_font = dict(family=FONT, size=23, color="black")
fig.add_annotation(text="<b>regenerace LNT</b>", xref="x2", yref="paper", x=1818, y=fy(372),
                   xanchor="center", yanchor="middle", showarrow=False, font=note_font)
fig.add_annotation(text="<b>absence regenerace LNT</b><br><b>= vyšší NOx</b>", xref="x2",
                   yref="paper", x=2759, y=fy(380), xanchor="center", yanchor="middle",
                   showarrow=False, font=note_font)

# arrows from the note to the regeneration peaks
for head, tail in [((1536, 648), (1670, 772)), ((1861, 610), (1798, 768)), ((2123, 621), (1906, 768))]:
    fig.add_annotation(x=head[0], y=head[1], ax=tail[0], ay=tail[1], xref="x2", yref="y3",
                       axref="x2", ayref="y3", text="", showarrow=True, arrowhead=2,
                       arrowsize=1.4, arrowwidth=1.6, arrowcolor="black", standoff=0)

# the figure fills the page edge to edge
fig.write_html("out.html",
               post_script="document.body.style.margin='0px';document.body.style.overflow='hidden';")
